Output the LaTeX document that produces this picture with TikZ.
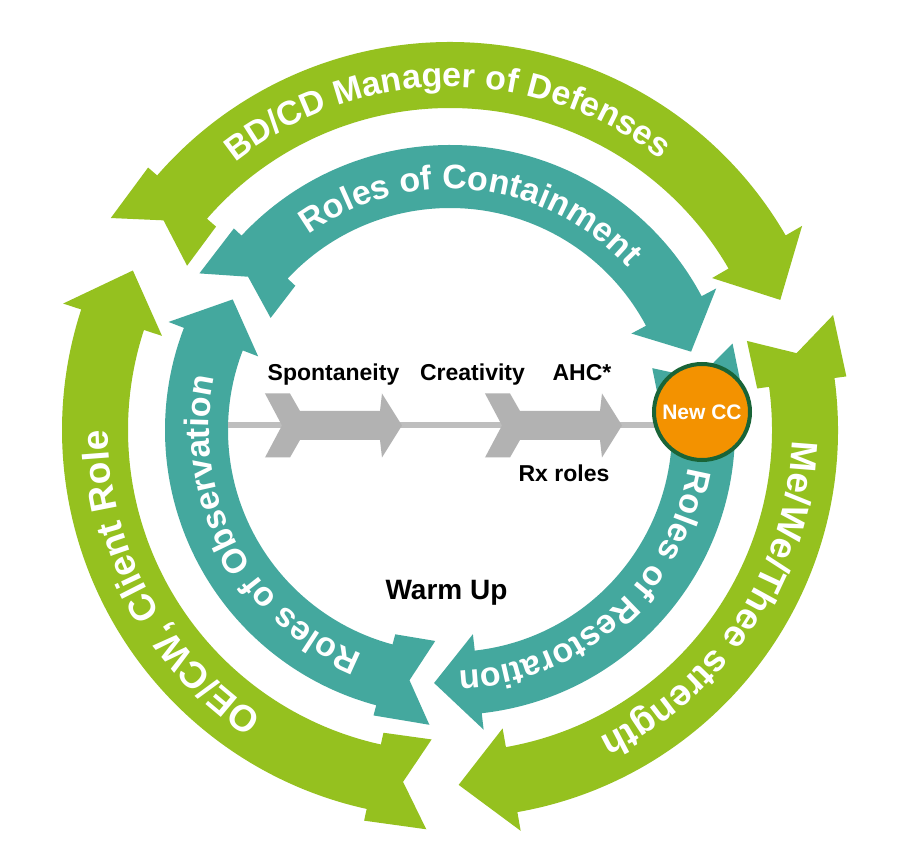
\documentclass[tikz,border=0pt]{standalone}
\usepackage{fontspec}
\setmainfont{Liberation Sans}
\usepackage{tikz}
\usetikzlibrary{decorations.text}

\definecolor{leaf}{RGB}{149,193,31}
\definecolor{sea}{RGB}{68,168,158}
\definecolor{amber}{RGB}{243,146,0}
\definecolor{rim}{RGB}{25,100,55}
\definecolor{chevgray}{RGB}{178,178,178}
\definecolor{axisgray}{RGB}{190,190,190}

\newcommand{\outerfont}{\fontsize{37}{44}\selectfont\bfseries}
\newcommand{\topfont}{\fontsize{34}{40}\selectfont\bfseries}
\newcommand{\innerfont}{\fontsize{34}{40}\selectfont\bfseries}

\begin{document}
\begin{tikzpicture}[x=1pt, y=1pt,
				ringtext/.style={decorate, decoration={text along path, text align=center, text color=white, text={#1}}},
				chevron/.style={fill=chevgray},
				axisline/.style={draw=axisgray, line width=6pt},
				tag/.style={font=\fontsize{23}{26}\selectfont\bfseries, anchor=base},
				newcc/.style={circle, fill=amber, draw=rim, line width=4pt, minimum size=96pt, inner sep=0pt, text=white, font=\fontsize{21}{24}\selectfont\bfseries}]
				
				% Background
				\fill[white] (-450,-437) rectangle (450,430);
				\useasboundingbox (-450,-437) rectangle (450,430);
				
				% Outer ring
				\foreach \tailang/\tipang in {148/21.5, 16.7/-88.6, 266.6/153.3}{
					\pgfmathsetmacro{\flareang}{\tailang-9}
					\pgfmathsetmacro{\barbang}{\tipang+8.6}
					\pgfmathsetmacro{\notchang}{\tailang-4.2}
					\fill[leaf] (\tailang:400pt) -- (\flareang:400pt) -- (\flareang:388pt)
					arc[start angle=\flareang, end angle=\barbang, radius=388pt]
					-- (\barbang:407pt) -- (\tipang:355pt) -- (\barbang:303pt) -- (\barbang:322pt)
					arc[start angle=\barbang, end angle=\flareang, radius=322pt]
					-- (\flareang:310pt) -- (\tailang:310pt) -- (\notchang:355pt) -- cycle;
				}
				
				% Inner ring
				\foreach \tailang/\tipang in {148/18, 17/-93.6, 266/149}{
					\pgfmathsetmacro{\flareang}{\tailang-11}
					\pgfmathsetmacro{\barbang}{\tipang+10}
					\pgfmathsetmacro{\notchang}{\tailang-5.2}
					\fill[sea] (\tailang:295.5pt) -- (\flareang:295.5pt) -- (\flareang:285pt)
					arc[start angle=\flareang, end angle=\barbang, radius=285pt]
					-- (\barbang:301.5pt) -- (\tipang:253.5pt) -- (\barbang:205.5pt) -- (\barbang:222pt)
					arc[start angle=\barbang, end angle=\flareang, radius=222pt]
					-- (\flareang:211.5pt) -- (\tailang:211.5pt) -- (\notchang:253.5pt) -- cycle;
				}
				
				% Ring texts
				\path[ringtext={|\topfont|BD/CD Manager of Defenses}] (160.4:343pt) arc[start angle=160.4, end angle=20.4, radius=343pt];
				\path[ringtext={|\outerfont|Me/We/Thee strength}] (37:342pt) arc[start angle=37, end angle=-103, radius=342pt];
				\path[ringtext={|\outerfont|OE/CW, Client Role}] (278.4:342pt) arc[start angle=278.4, end angle=138.4, radius=342pt];
				\path[ringtext={|\innerfont|Roles of Containment}] (154.2:241pt) arc[start angle=154.2, end angle=14.2, radius=241pt];
				\path[ringtext={|\innerfont|Roles of Restoration}] (21.5:241pt) arc[start angle=21.5, end angle=-118.5, radius=241pt];
				\path[ringtext={|\innerfont|Roles of Observation}] (278:241pt) arc[start angle=278, end angle=138, radius=241pt];
				
				% Axis with chevrons
				\coordinate (axisstart) at (-222,4.5);
				\coordinate (axisend) at (252,4.5);
				\draw[axisline] (axisstart) -- (axisend);
				\foreach \x in {-185,35}
				\fill[chevron] (\x,36.5) -- ++(25,0) -- ++(10,-17.5) -- ++(80,0) -- ++(2,17.5) -- ++(20,-32)
				-- ++(-20,-32) -- ++(-2,17.5) -- ++(-80,0) -- ++(-10,-17.5) -- ++(-25,0) -- ++(17,32) -- cycle;
				
				\node[newcc] (cc) at (252,18) {New CC};
				
				% Labels
				\node[tag] (spont) at (-116.5,49) {Spontaneity};
				\node[tag] (creat) at (22.5,49) {Creativity};
				\node[tag] (ahc) at (132,49) {AHC*};
				\node[tag] (rx) at (114,-51.7) {Rx roles};
				\node[tag, font=\fontsize{28}{32}\selectfont\bfseries] (warmup) at (-3.5,-169) {Warm Up};
			\end{tikzpicture}
\end{document}
